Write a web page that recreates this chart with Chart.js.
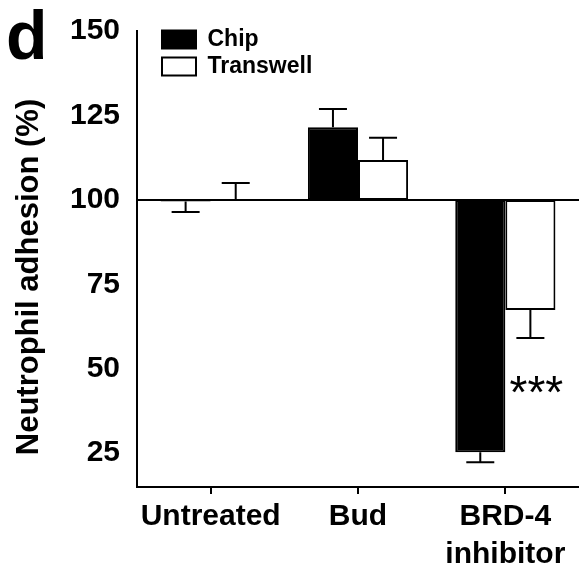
<!DOCTYPE html>
<html>
<head>
<meta charset="utf-8">
<script src="https://cdn.jsdelivr.net/npm/chart.js@4.4.1/dist/chart.umd.min.js"></script>
<style>
  html, body { margin: 0; padding: 0; background: #fff; }
  #wrap { width: 579px; height: 569px; position: relative; }
</style>
</head>
<body>
<div id="wrap"><canvas id="chartAdhesion"></canvas></div>
<script>
// datos
const categories = ['Untreated', 'Bud', ['BRD-4', 'inhibitor']];
const chipMeans = [99.5, 121.5, 25.3];
const chipSem = [3.1, 5.4, 3.0];
const transwellMeans = [100.3, 111.8, 67.4];
const transwellSem = [4.7, 6.6, 8.3];
const yTicks = [25, 50, 75, 100, 125, 150];
const baseline = 100;

const FONT = '"Liberation Sans", Arial, Helvetica, sans-serif';
Chart.defaults.color = '#000';
Chart.defaults.font.family = FONT;

// barras de error (solo hacia fuera de la linea base), linea base, asteriscos y textos
const extrasPlugin = {
    id: 'extras',
    afterLayout(chart) {
        // mover la leyenda dentro del area, arriba a la izquierda
        chart.legend.left += 21;
        chart.legend.top += 24;
    },
    afterDatasetsDraw(chart) {
        const ctx = chart.ctx;
        const y = chart.scales.y;
        const area = chart.chartArea;
        const sems = [chipSem, transwellSem];

        ctx.save();
        ctx.strokeStyle = '#000';
        ctx.lineWidth = 2;

        // linea base en 100
        const yb = y.getPixelForValue(baseline);
        ctx.beginPath();
        ctx.moveTo(area.left, yb);
        ctx.lineTo(area.right, yb);
        ctx.stroke();

        chart.data.datasets.forEach((ds, di) => {
            const meta = chart.getDatasetMeta(di);
            meta.data.forEach((bar, i) => {
                const mean = ds.data[i][1];
                const dir = mean >= baseline ? 1 : -1;
                const y1 = y.getPixelForValue(mean);
                const y2 = y.getPixelForValue(mean + dir * sems[di][i]);
                ctx.beginPath();
                ctx.moveTo(bar.x, y1);
                ctx.lineTo(bar.x, y2);
                ctx.moveTo(bar.x - 14, y2);
                ctx.lineTo(bar.x + 14, y2);
                ctx.stroke();
            });
        });

        // significancia
        const tw = chart.getDatasetMeta(1).data[2];
        ctx.fillStyle = '#000';
        ctx.font = '46px ' + FONT;
        ctx.textAlign = 'center';
        ctx.textBaseline = 'alphabetic';
        ctx.fillText('***', tw.x + 6, y.getPixelForValue(38.4));

        // letra del panel
        ctx.font = 'bold 68px ' + FONT;
        ctx.textAlign = 'left';
        ctx.fillText('d', 6, 59);

        // titulo del eje y
        ctx.translate(29, 277);
        ctx.rotate(-Math.PI / 2);
        ctx.font = 'bold 31px ' + FONT;
        ctx.textAlign = 'center';
        ctx.textBaseline = 'middle';
        ctx.fillText('Neutrophil adhesion (%)', 0, 0);
        ctx.restore();
    }
};

const ctx = document.getElementById('chartAdhesion').getContext('2d');
window.graficaAdhesion = new Chart(ctx, {
    type: 'bar',
    data: {
        labels: categories,
        datasets: [{
            label: 'Chip',
            data: chipMeans.map(v => [baseline, v]),
            backgroundColor: '#000',
            borderColor: '#000',
            borderWidth: 2,
            borderSkipped: false
        }, {
            label: 'Transwell',
            data: transwellMeans.map(v => [baseline, v]),
            backgroundColor: '#fff',
            borderColor: '#000',
            borderWidth: 2,
            borderSkipped: false
        }]
    },
    options: {
        responsive: true,
        maintainAspectRatio: false,
        animation: false,
        layout: { padding: { top: 31, right: 0, bottom: 0, left: 0 } },
        datasets: {
            bar: { barPercentage: 1, categoryPercentage: 0.68 }
        },
        scales: {
            x: {
                grid: {
                    display: true,
                    drawOnChartArea: false,
                    drawTicks: true,
                    tickLength: 7,
                    offset: false,
                    color: '#000',
                    lineWidth: 2
                },
                border: { display: true, color: '#000', width: 2 },
                ticks: {
                    font: { size: 30, weight: 'bold', lineHeight: 1.27 },
                    padding: 4,
                    maxRotation: 0,
                    autoSkip: false
                },
                afterFit(scale) { scale.height = 82; }
            },
            y: {
                min: 15,
                max: 150,
                grid: { display: false },
                border: { display: true, color: '#000', width: 2 },
                ticks: {
                    font: { size: 30, weight: 'bold' },
                    padding: 9
                },
                afterBuildTicks(scale) {
                    scale.ticks = yTicks.map(v => ({ value: v }));
                },
                afterFit(scale) { scale.width = 137; }
            }
        },
        plugins: {
            legend: {
                position: 'chartArea',
                align: 'start',
                labels: {
                    boxWidth: 34,
                    boxHeight: 18,
                    padding: 4,
                    font: { size: 23, weight: 'bold' }
                }
            },
            tooltip: { enabled: false }
        }
    },
    plugins: [extrasPlugin]
});
</script>
</body>
</html>
